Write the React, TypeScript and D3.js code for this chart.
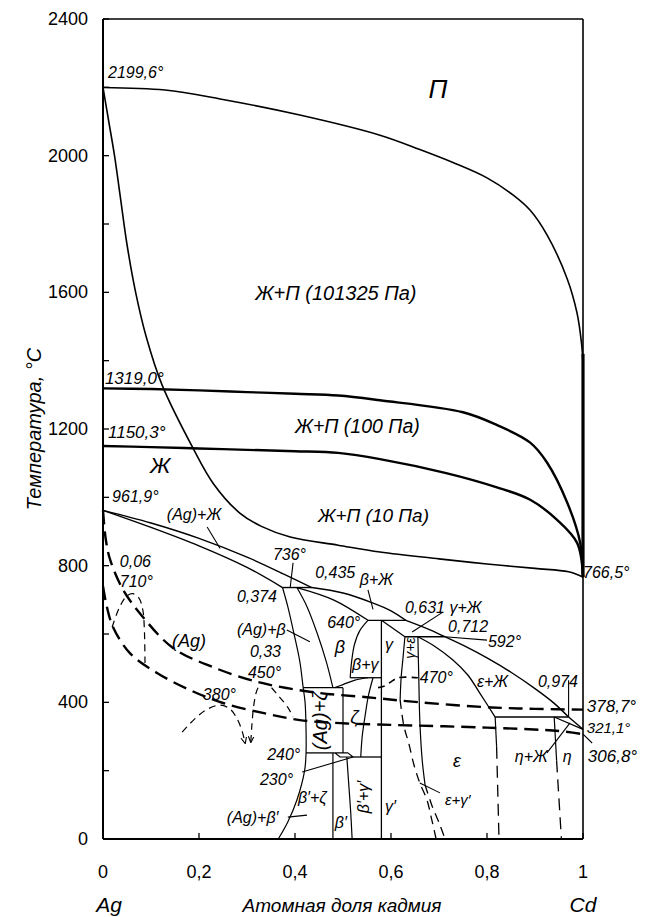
import React from 'react';
import * as d3 from 'd3';

type P = [number, number];

// ---- axis ticks ----
const yTicks = [0, 200, 400, 600, 800, 1000, 1200, 1400, 1600, 1800, 2000, 2200, 2400];
const yTickLabels = [0, 400, 800, 1200, 1600, 2000, 2400];
const xTicks = [0, 0.2, 0.4, 0.6, 0.8, 1];
const xTickLabels = ['0', '0,2', '0,4', '0,6', '0,8', '1'];

// ---- liquid / vapour curves ----
const dew101325: P[] = [[0, 2199.6], [0.129, 2192], [0.244, 2166], [0.41, 2119], [0.577, 2060], [0.66, 2018], [0.729, 1980], [0.8, 1935], [0.854, 1885], [0.89, 1840], [0.925, 1768], [0.967, 1640], [0.9875, 1540], [0.997, 1450], [1, 1390]];
const dewEdge: P[] = [[1, 1420], [1, 766.5]];
const bubble101325: P[] = [[0, 2199.6], [0.012, 2100], [0.024, 2000], [0.036, 1880], [0.05, 1740], [0.068, 1600], [0.09, 1470], [0.123, 1329], [0.1875, 1144], [0.23, 1040], [0.285, 954], [0.33, 915], [0.39, 884], [0.49, 860], [0.577, 840], [0.7, 820], [0.8, 805], [0.9, 792], [0.97, 782], [1, 766.5]];
const liq100: P[] = [[0, 1319], [0.1, 1317], [0.2, 1313], [0.3, 1308], [0.4, 1303], [0.49, 1298], [0.577, 1284], [0.75, 1249], [0.82, 1212], [0.89, 1160], [0.925, 1102], [0.967, 985], [0.994, 868], [1, 766.5]];
const liq10: P[] = [[0, 1150.3], [0.1, 1147], [0.2, 1143], [0.3, 1139], [0.4, 1135], [0.49, 1130], [0.577, 1112], [0.715, 1071], [0.819, 1030], [0.89, 993], [0.946, 934], [0.988, 866], [1, 766.5]];

// ---- condensed phase diagram ----
const liquidus1: P[] = [[0, 961.9], [0.1, 925], [0.2, 880], [0.3, 825], [0.38, 773], [0.435, 736]];
const liquidus2: P[] = [[0.435, 736], [0.5, 720], [0.56, 692], [0.6, 668], [0.631, 640]];
const liquidus3: P[] = [[0.631, 640], [0.68, 613], [0.712, 592]];
const liquidus4: P[] = [[0.712, 592], [0.76, 560], [0.8, 530], [0.85, 488], [0.9, 440], [0.94, 397], [0.97, 357]];
const liquidus5: P[] = [[0.97, 357], [1, 321.1]];
const solidusAg: P[] = [[0, 961.9], [0.1, 912], [0.2, 858], [0.3, 795], [0.374, 736]];
const per736: P[] = [[0.374, 736], [0.435, 736]];
const per640: P[] = [[0.552, 640], [0.631, 640]];
const per592: P[] = [[0.629, 592], [0.712, 592]];
const per357: P[] = [[0.817, 357], [0.97, 357]];
const solidusBeta: P[] = [[0.404, 736], [0.48, 700], [0.552, 640]];
const solidusGamma: P[] = [[0.58, 640], [0.629, 592]];
const solidusEps: P[] = [[0.656, 592], [0.69, 565], [0.729, 524], [0.76, 480], [0.785, 427], [0.817, 357]];
const solidusEta: P[] = [[0.94, 357], [1, 321.1]];
const solvusAg: P[] = [[0.374, 736], [0.385, 680], [0.398, 600], [0.41, 520], [0.417, 443], [0.421, 400], [0.423, 320], [0.423, 252], [0.42, 200], [0.404, 114], [0.385, 50], [0.365, 0]];
const betaLeft: P[] = [[0.404, 736], [0.425, 680], [0.446, 603], [0.465, 520], [0.479, 443]];
const betaRight: P[] = [[0.552, 640], [0.535, 610], [0.524, 570], [0.518, 520], [0.515, 472]];
const eut470: P[] = [[0.515, 472], [0.58, 472]];
const eut440: P[] = [[0.417, 443], [0.5, 443]];
const zetaTop: P[] = [[0.483, 443], [0.5, 452], [0.525, 465], [0.552, 472]];
const zetaLeft: P[] = [[0.5, 443], [0.5, 252]];
const zetaRight: P[] = [[0.5625, 472], [0.553, 420], [0.546, 360], [0.54, 300], [0.537, 240]];
const gammaLeft: P[] = [[0.58, 640], [0.58, 0]];
const eut240: P[] = [[0.423, 252], [0.483, 252]];
const quad: P[] = [[0.483, 252], [0.51, 252], [0.521, 240], [0.494, 240], [0.483, 252]];
const eut230: P[] = [[0.521, 240], [0.58, 240]];
const betaPrimeLeft: P[] = [[0.479, 252], [0.479, 0]];
const betaPrimeRight: P[] = [[0.508, 240], [0.512, 160], [0.516, 80], [0.519, 0]];
const gammaRightSolid: P[] = [[0.629, 592], [0.625, 530], [0.621, 470], [0.619, 407]];
const gammaRightDash: P[] = [[0.619, 407], [0.627, 330], [0.637, 280], [0.648, 216], [0.66, 164], [0.675, 114], [0.685, 56], [0.694, 0]];
const epsLeftSolid: P[] = [[0.656, 592], [0.658, 465], [0.66, 348], [0.665, 231], [0.671, 158]];
const epsLeftDash: P[] = [[0.671, 158], [0.685, 99], [0.702, 41], [0.7125, 0]];
const eut470Dash: P[] = [[0.573, 443], [0.585, 447], [0.6, 460], [0.615, 472], [0.656, 472]];
const epsRightSolid: P[] = [[0.817, 357], [0.82, 270]];
const epsRightDash: P[] = [[0.82, 270], [0.825, 0]];
const etaLeftSolid: P[] = [[0.94, 357], [0.945, 230]];
const etaLeftDash: P[] = [[0.945, 230], [0.955, 0]];

// ---- sublimation (dashed) curves ----
const subl100: P[] = [[0, 961.9], [0.006, 875], [0.015, 817], [0.042, 729], [0.083, 650], [0.146, 559], [0.229, 503], [0.321, 460], [0.39, 440], [0.452, 427], [0.55, 415], [0.66, 400], [0.81, 385], [0.9, 381], [1, 378.7]];
const subl10: P[] = [[0, 740], [0.008, 680], [0.021, 620], [0.056, 544], [0.1125, 486], [0.181, 436], [0.25, 398], [0.333, 369], [0.41, 348], [0.494, 339], [0.6, 334], [0.8, 326], [0.95, 316], [1, 306.8]];
const dome710: P[] = [[0.019, 620], [0.035, 680], [0.05, 712], [0.0625, 718], [0.075, 705], [0.083, 670], [0.086, 620], [0.0875, 515]];
const dome450: P[] = [[0.308, 284], [0.31, 330], [0.315, 400], [0.322, 440], [0.331, 456], [0.345, 450], [0.365, 420], [0.385, 385], [0.396, 357]];
const dome380: P[] = [[0.165, 313], [0.19, 350], [0.215, 378], [0.244, 392], [0.265, 380], [0.28, 350], [0.29, 315], [0.296, 281]];

// ---- leader lines ----
const leaders: P[][] = [
  [[0.217, 913], [0.244, 850]],
  [[0.396, 808], [0.39, 736]],
  [[0.552, 729], [0.5625, 672]],
  [[0.383, 612], [0.431, 577]],
  [[0.708, 664], [0.644, 606]],
  [[0.712, 592], [0.8, 582]],
  [[0.97, 465], [0.97, 357]],
  [[0.925, 252], [0.973, 340]],
  [[1, 306.8], [1.019, 281]],
  [[0.702, 135], [0.66, 164]],
  [[0.385, 64], [0.425, 70]],
  [[0.415, 196], [0.521, 240]],
];

// ---- labels (data coords) ----
type L = { t: string; x: number; y: number; s?: number; r?: boolean };
const labels: L[] = [
  { t: '2199,6°', x: 0.0104, y: 2227 },
  { t: 'П', x: 0.678, y: 2169, s: 26 },
  { t: 'Ж+П (101325 Па)', x: 0.317, y: 1578, s: 20 },
  { t: '1319,0°', x: 0.004, y: 1331, s: 17 },
  { t: 'Ж+П (100 Па)', x: 0.4, y: 1188, s: 19.5 },
  { t: '1150,3°', x: 0.0104, y: 1174, s: 17 },
  { t: 'Ж', x: 0.098, y: 1071, s: 22 },
  { t: 'Ж+П (10 Па)', x: 0.448, y: 928, s: 19 },
  { t: '961,9°', x: 0.019, y: 986 },
  { t: '(Ag)+Ж', x: 0.133, y: 934 },
  { t: '736°', x: 0.354, y: 817 },
  { t: '0,435', x: 0.442, y: 764 },
  { t: 'β+Ж', x: 0.535, y: 743 },
  { t: '0,374', x: 0.279, y: 694 },
  { t: '0,06', x: 0.035, y: 796 },
  { t: '710°', x: 0.035, y: 738 },
  { t: '(Ag)+β', x: 0.279, y: 597 },
  { t: '640°', x: 0.467, y: 618 },
  { t: 'β', x: 0.483, y: 544, s: 18 },
  { t: '0,33', x: 0.306, y: 533 },
  { t: '450°', x: 0.302, y: 471 },
  { t: '(Ag)', x: 0.144, y: 562, s: 18 },
  { t: '380°', x: 0.208, y: 407 },
  { t: 'β+γ', x: 0.519, y: 495 },
  { t: 'γ', x: 0.5875, y: 553 },
  { t: 'γ+ε', x: 0.64, y: 559, s: 14, r: true },
  { t: '0,631 γ+Ж', x: 0.629, y: 661 },
  { t: '0,712', x: 0.719, y: 606 },
  { t: '592°', x: 0.802, y: 562 },
  { t: '470°', x: 0.66, y: 457 },
  { t: 'ε+Ж', x: 0.779, y: 445 },
  { t: '0,974', x: 0.906, y: 445 },
  { t: '378,7°', x: 1.008, y: 372, s: 17 },
  { t: '321,1°', x: 1.008, y: 310, s: 15 },
  { t: '306,8°', x: 1.01, y: 225, s: 17 },
  { t: '766,5°', x: 1.0, y: 764 },
  { t: 'ε', x: 0.729, y: 211, s: 18 },
  { t: 'η+Ж', x: 0.858, y: 225 },
  { t: 'η', x: 0.958, y: 225 },
  { t: 'ε+γ′', x: 0.7125, y: 100, s: 15 },
  { t: '(Ag)+ζ', x: 0.452, y: 346, s: 20, r: true },
  { t: 'ζ', x: 0.515, y: 340, s: 18 },
  { t: '240°', x: 0.342, y: 231 },
  { t: '230°', x: 0.327, y: 158 },
  { t: 'β′+ζ', x: 0.406, y: 105 },
  { t: '(Ag)+β′', x: 0.258, y: 47 },
  { t: 'β′', x: 0.483, y: 32 },
  { t: 'β′+γ′', x: 0.542, y: 123, s: 16, r: true },
  { t: 'γ′', x: 0.5875, y: 79 },
];

export default function App() {
  const W = 646, H = 917;
  const x = d3.scaleLinear().domain([0, 1]).range([103, 583]);
  const y = d3.scaleLinear().domain([0, 2400]).range([839, 19]);
  const smooth = d3.line<P>().x(d => x(d[0])).y(d => y(d[1])).curve(d3.curveCatmullRom.alpha(0.5));
  const straight = d3.line<P>().x(d => x(d[0])).y(d => y(d[1]));
  const font = "'Liberation Sans', Arial, sans-serif";

  type C = { d: P[]; w: number; dash?: string; s?: boolean };
  const curves: C[] = [
    { d: dew101325, w: 1.6, s: true },
    { d: dewEdge, w: 3.2 },
    { d: bubble101325, w: 1.6, s: true },
    { d: liq100, w: 2.4, s: true },
    { d: liq10, w: 2.4, s: true },
    { d: liquidus1, w: 1.4, s: true },
    { d: liquidus2, w: 1.4, s: true },
    { d: liquidus3, w: 1.4, s: true },
    { d: liquidus4, w: 1.4, s: true },
    { d: liquidus5, w: 1.4 },
    { d: solidusAg, w: 1.4, s: true },
    { d: per736, w: 1.4 },
    { d: per640, w: 1.4 },
    { d: per592, w: 1.4 },
    { d: per357, w: 1.4 },
    { d: solidusBeta, w: 1.3, s: true },
    { d: solidusGamma, w: 1.3 },
    { d: solidusEps, w: 1.3, s: true },
    { d: solidusEta, w: 1.3 },
    { d: solvusAg, w: 1.2, s: true },
    { d: betaLeft, w: 1.2, s: true },
    { d: betaRight, w: 1.2, s: true },
    { d: eut470, w: 1.3 },
    { d: eut440, w: 1.3 },
    { d: zetaTop, w: 1.2, s: true },
    { d: zetaLeft, w: 1.2 },
    { d: zetaRight, w: 1.2, s: true },
    { d: gammaLeft, w: 1.3 },
    { d: eut240, w: 1.3 },
    { d: quad, w: 1.2 },
    { d: eut230, w: 1.3 },
    { d: betaPrimeLeft, w: 1.2 },
    { d: betaPrimeRight, w: 1.2, s: true },
    { d: gammaRightSolid, w: 1.2, s: true },
    { d: gammaRightDash, w: 1.3, s: true, dash: '9 6' },
    { d: epsLeftSolid, w: 1.2, s: true },
    { d: epsLeftDash, w: 1.3, s: true, dash: '9 6' },
    { d: eut470Dash, w: 1.6, s: true, dash: '7 5' },
    { d: epsRightSolid, w: 1.2 },
    { d: epsRightDash, w: 1.3, dash: '12 7' },
    { d: etaLeftSolid, w: 1.2 },
    { d: etaLeftDash, w: 1.3, dash: '12 7' },
    { d: subl100, w: 2.4, s: true, dash: '14 7' },
    { d: subl10, w: 2.4, s: true, dash: '14 7' },
    { d: dome710, w: 1.2, s: true, dash: '7 5' },
    { d: dome450, w: 1.2, s: true, dash: '7 5' },
    { d: dome380, w: 1.2, s: true, dash: '7 5' },
  ];

  return (
    <svg width={W} height={H} style={{ position: 'absolute', left: 0, top: 0, background: '#fff' }}>
      <defs>
        <marker id="arr" viewBox="0 0 10 10" refX="8" refY="5" markerWidth="7" markerHeight="7" orient="auto">
          <path d="M0,1 L9,5 L0,9" fill="none" stroke="#000" strokeWidth="1.6" />
        </marker>
      </defs>
      {/* frame */}
      <line x1={x(0)} x2={x(1)} y1={y(2400)} y2={y(2400)} stroke="#000" strokeWidth={1.6} />
      <line x1={x(1)} x2={x(1)} y1={y(2400)} y2={y(0)} stroke="#000" strokeWidth={1.6} />
      <line x1={x(0)} x2={x(0)} y1={y(2400)} y2={y(0)} stroke="#000" strokeWidth={2} />
      <line x1={x(0)} x2={x(1)} y1={y(0)} y2={y(0)} stroke="#000" strokeWidth={2.2} />
      {yTicks.map(t => (
        <line key={'yt' + t} x1={x(0)} x2={x(0) + 6} y1={y(t)} y2={y(t)} stroke="#000" strokeWidth={1.3} />
      ))}
      {xTicks.map(t => (
        <line key={'xt' + t} x1={x(t)} x2={x(t)} y1={y(0)} y2={y(0) - 6} stroke="#000" strokeWidth={1.3} />
      ))}
      {yTickLabels.map(t => (
        <text key={'yl' + t} x={x(0) - 15} y={y(t) + 6} textAnchor="end" fontFamily={font} fontSize={18}>{t}</text>
      ))}
      {xTicks.map((t, i) => (
        <text key={'xl' + t} x={x(t)} y={y(0) + 39} textAnchor="middle" fontFamily={font} fontSize={18}>{xTickLabels[i]}</text>
      ))}
      <text x={x(0) + 6} y={912} textAnchor="middle" fontFamily={font} fontSize={21} fontStyle="italic">Ag</text>
      <text x={x(1)} y={912} textAnchor="middle" fontFamily={font} fontSize={21} fontStyle="italic">Cd</text>
      <text x={342} y={912} textAnchor="middle" fontFamily={font} fontSize={19} fontStyle="italic">Атомная доля кадмия</text>
      <text transform={`translate(41,${y(1200)}) rotate(-90)`} textAnchor="middle" fontFamily={font} fontSize={20} fontStyle="italic">Температура, °C</text>

      {/* curves */}
      {curves.map((c, i) => (
        <path key={'c' + i} d={(c.s ? smooth : straight)(c.d) || ''} fill="none" stroke="#000" strokeWidth={c.w}
          strokeDasharray={c.dash} strokeLinejoin="round" />
      ))}
      {/* dome arrows */}
      <path d={straight(dome380.slice(-2)) || ''} fill="none" stroke="none" markerEnd="url(#arr)" />
      <path d={straight([dome450[1], dome450[0]]) || ''} fill="none" stroke="none" markerEnd="url(#arr)" />
      {leaders.map((l, i) => (
        <path key={'l' + i} d={straight(l) || ''} fill="none" stroke="#000" strokeWidth={1.1} />
      ))}

      {/* labels */}
      {labels.map((l, i) => l.r ? (
        <text key={'t' + i} transform={`translate(${x(l.x)},${y(l.y)}) rotate(-90)`} textAnchor="middle" dominantBaseline="central"
          fontFamily={font} fontSize={l.s || 16} fontStyle="italic">{l.t}</text>
      ) : (
        <text key={'t' + i} x={x(l.x)} y={y(l.y)} fontFamily={font} fontSize={l.s || 16} fontStyle="italic">{l.t}</text>
      ))}
    </svg>
  );
}
